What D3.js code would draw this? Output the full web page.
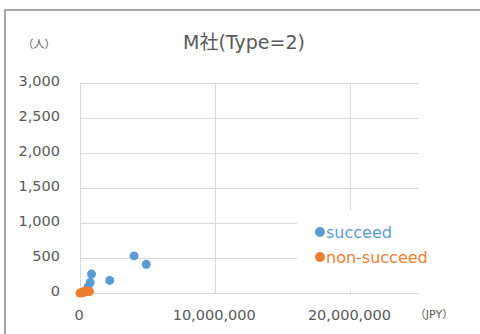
<!DOCTYPE html>
<html>
<head>
<meta charset="utf-8">
<script src="https://cdn.jsdelivr.net/npm/d3@7"></script>
<style>
  html, body { margin: 0; padding: 0; background: #fff; }
  svg { display: block; }
  text { font-family: "DejaVu Sans", "Noto Sans CJK JP", sans-serif; fill: #595959; }
</style>
</head>
<body>
<svg id="chart" width="480" height="334"></svg>
<script>
// Amount (JPY) vs. number of people, by outcome
const succeedX = [4000000, 4900000, 850000, 750000, 2200000, 600000];
const succeedY = [530, 410, 270, 150, 180, 90];
const nonSucceedX = [0, 150000, 300000, 450000, 550000, 700000, 250000];
const nonSucceedY = [0, 10, 20, 30, 25, 20, 5];

const xTicks = [0, 10000000, 20000000];
const xGrid = [0, 10000000, 20000000];
const yTicks = [0, 500, 1000, 1500, 2000, 2500, 3000];

const seriesNames = ["succeed", "non-succeed"];
const seriesColors = ["#5B9BD5", "#ED7D31"];

const title = "M社(Type=2)";
const yUnit = "（人）";
const xUnit = "（JPY）";

const svg = d3.select("#chart");
const plot = { left: 80, right: 418, top: 83, bottom: 293 };

const x = d3.scaleLinear().domain([0, 25000000]).range([plot.left, plot.right]);
const y = d3.scaleLinear().domain([0, 3000]).range([plot.bottom, plot.top]);

// chart frame
svg.append("rect")
  .attr("x", 5).attr("y", 10)
  .attr("width", 600).attr("height", 600)
  .attr("fill", "#fff")
  .attr("stroke", "#a6a6a6").attr("stroke-width", 2);

// horizontal gridlines
svg.append("g")
  .selectAll("line").data(yTicks).join("line")
  .attr("x1", plot.left).attr("x2", plot.right)
  .attr("y1", d => y(d) + 0.5).attr("y2", d => y(d) + 0.5)
  .attr("stroke", "#d9d9d9").attr("stroke-width", 1);

// vertical gridlines
svg.append("g")
  .selectAll("line").data(xGrid).join("line")
  .attr("x1", d => Math.round(x(d)) + 0.5).attr("x2", d => Math.round(x(d)) + 0.5)
  .attr("y1", plot.top).attr("y2", plot.bottom)
  .attr("stroke", "#d9d9d9").attr("stroke-width", 1);

// y tick labels
const fmt = d3.format(",");
svg.append("g")
  .selectAll("text").data(yTicks).join("text")
  .attr("x", 60).attr("y", d => y(d) - 2)
  .attr("text-anchor", "end")
  .attr("dominant-baseline", "central")
  .attr("font-size", 14.5)
  .text(d => fmt(d));

// x tick labels
svg.append("g")
  .selectAll("text").data(xTicks).join("text")
  .attr("x", d => x(d) - 1).attr("y", 315)
  .attr("text-anchor", "middle")
  .attr("dominant-baseline", "central")
  .attr("font-size", 14.5)
  .text(d => fmt(d));

// title and unit labels
svg.append("text")
  .attr("x", 244).attr("y", 42)
  .attr("text-anchor", "middle").attr("dominant-baseline", "central")
  .attr("font-size", 19)
  .text(title);

svg.append("text")
  .attr("x", 39).attr("y", 44)
  .attr("text-anchor", "middle").attr("dominant-baseline", "central")
  .attr("font-size", 11)
  .text(yUnit);

svg.append("text")
  .attr("x", 434).attr("y", 314)
  .attr("text-anchor", "middle").attr("dominant-baseline", "central")
  .attr("font-size", 11)
  .text(xUnit);

// scatter points
const series = [
  { xs: succeedX, ys: succeedY },
  { xs: nonSucceedX, ys: nonSucceedY }
];
series.forEach((s, i) => {
  svg.append("g")
    .selectAll("circle").data(s.xs.map((v, k) => [v, s.ys[k]])).join("circle")
    .attr("cx", d => x(d[0])).attr("cy", d => y(d[1]))
    .attr("r", 4.5)
    .attr("fill", seriesColors[i]);
});

// legend (sits over the plot area)
const legend = svg.append("g");
legend.append("rect")
  .attr("x", 297).attr("y", 210).attr("width", 150).attr("height", 80)
  .attr("fill", "#fff");
seriesNames.forEach((name, i) => {
  const ly = 232 + i * 25;
  legend.append("circle")
    .attr("cx", 320).attr("cy", ly).attr("r", 5)
    .attr("fill", seriesColors[i]);
  legend.append("text")
    .attr("x", 326).attr("y", ly)
    .attr("dominant-baseline", "central")
    .attr("font-size", 16)
    .style("fill", seriesColors[i])
    .text(name);
});
</script>
</body>
</html>
